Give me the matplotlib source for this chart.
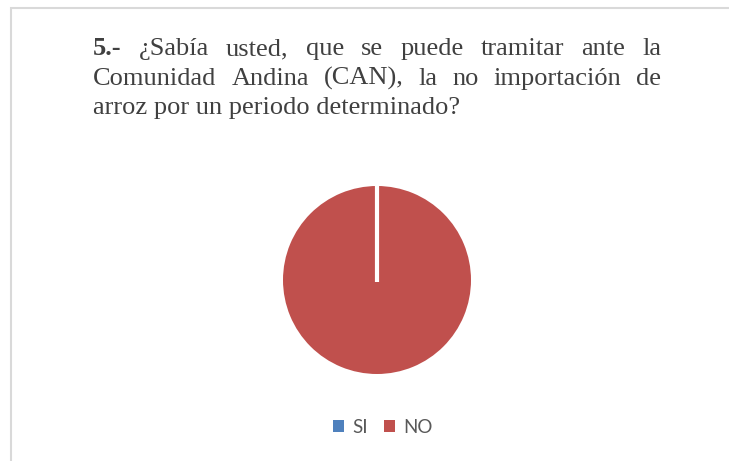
import matplotlib
matplotlib.use('Agg')
import matplotlib.pyplot as plt
import numpy as np
from matplotlib.patches import Patch, Rectangle

# data
labels = ['SI', 'NO']
values = [0, 100]
colors = ['#4F81BD', '#C0504D']

title_lines = [
    [('5.-', 'bold'), ('¿Sabía', 'normal'), ('usted,', 'normal'), ('que', 'normal'),
     ('se', 'normal'), ('puede', 'normal'), ('tramitar', 'normal'), ('ante', 'normal'), ('la', 'normal')],
    [('Comunidad', 'normal'), ('Andina', 'normal'), ('(CAN),', 'normal'), ('la', 'normal'),
     ('no', 'normal'), ('importación', 'normal'), ('de', 'normal')],
    [('arroz por un periodo determinado?', 'normal')],
]

W, H = 729, 461
fig = plt.figure(figsize=(W / 100, H / 100), dpi=100)
fig.patch.set_facecolor('white')

# chart area border
fig.add_artist(Rectangle((10.5 / W, -0.1), 1.2, 1 - 7.5 / H + 0.1, transform=fig.transFigure,
                         fill=False, edgecolor='#d9d9d9', lw=1.5))

# justified title
txt_col = '#404040'
fs = 19
x_left, x_right = 93, 661
baselines = [55, 85, 114]
renderer = fig.canvas.get_renderer()
for i, line in enumerate(title_lines):
    objs = []
    for word, wt in line:
        t = fig.text(0, 1 - baselines[i] / H, word, fontsize=fs, fontweight=wt,
                     family='Liberation Serif', color=txt_col, va='baseline', ha='left')
        objs.append(t)
    widths = [t.get_window_extent(renderer).width for t in objs]
    if i < len(title_lines) - 1:
        gap = (x_right - x_left - sum(widths)) / (len(objs) - 1)
    else:
        gap = 0
    x = x_left
    for t, w in zip(objs, widths):
        t.set_x(x / W)
        x += w + gap

# pie
cx, cy, r = 377, 280, 94
ax = fig.add_axes([(cx - r) / W, (H - cy - r) / H, 2 * r / W, 2 * r / H])
wedges, _ = ax.pie(values, colors=colors, startangle=90, counterclock=False, radius=1,
                   wedgeprops=dict(linewidth=0))
# slice border on the zero-size wedge
ang = np.deg2rad(wedges[0].theta1)
ax.plot([0, 1.02 * np.cos(ang)], [-0.02, 1.02 * np.sin(ang)], color='white', lw=3,
        solid_capstyle='butt', clip_on=False)
ax.set_xlim(-1, 1)
ax.set_ylim(-1, 1)
ax.axis('off')

# legend
handles = [Patch(facecolor=c, edgecolor='none') for c in colors]
fig.legend(handles, labels, loc='center', bbox_to_anchor=(383 / W, 1 - 427 / H), ncol=2,
           frameon=False, handlelength=0.6, handleheight=0.6, handletextpad=0.45,
           columnspacing=0.82, prop={'family': 'Lato', 'size': 13.5}, labelcolor='#595959')

fig.savefig('out.png', dpi=100)
